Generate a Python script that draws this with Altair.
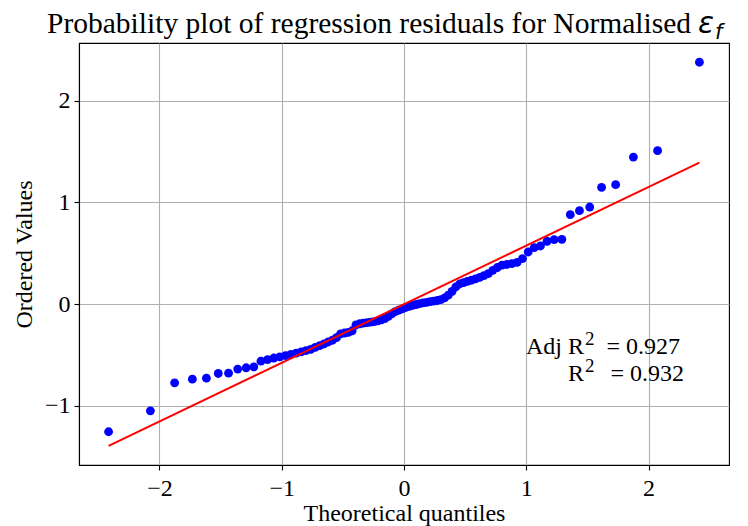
import altair as alt
import pandas as pd

# ---- data ----
theoretical = [-2.416, -2.074, -1.876, -1.731, -1.616, -1.519, -1.435, -1.360, -1.291, -1.228,
               -1.170, -1.116, -1.065, -1.016, -0.969, -0.925, -0.882, -0.841, -0.802, -0.763,
               -0.726, -0.689, -0.654, -0.619, -0.585, -0.552, -0.519, -0.487, -0.455, -0.424,
               -0.393, -0.362, -0.332, -0.302, -0.273, -0.243, -0.214, -0.185, -0.157, -0.128,
               -0.100, -0.071, -0.043, -0.014, 0.014, 0.043, 0.071, 0.100, 0.128, 0.157,
               0.185, 0.214, 0.243, 0.273, 0.302, 0.332, 0.362, 0.393, 0.424, 0.455,
               0.487, 0.519, 0.552, 0.585, 0.619, 0.654, 0.689, 0.726, 0.763, 0.802,
               0.841, 0.882, 0.925, 0.969, 1.016, 1.065, 1.116, 1.170, 1.228, 1.291,
               1.360, 1.435, 1.519, 1.616, 1.731, 1.876, 2.074, 2.416]
ordered = [-1.255, -1.049, -0.774, -0.738, -0.728, -0.682, -0.679, -0.639, -0.626, -0.617,
           -0.561, -0.545, -0.530, -0.518, -0.507, -0.495, -0.482, -0.470, -0.458, -0.445,
           -0.425, -0.408, -0.392, -0.372, -0.355, -0.330, -0.292, -0.284, -0.278, -0.262,
           -0.205, -0.193, -0.187, -0.182, -0.177, -0.172, -0.164, -0.155, -0.142, -0.120,
           -0.095, -0.074, -0.060, -0.047, -0.033, -0.021, -0.012, -0.004, 0.005, 0.012,
           0.018, 0.024, 0.030, 0.036, 0.045, 0.062, 0.088, 0.125, 0.170, 0.198,
           0.212, 0.224, 0.235, 0.248, 0.263, 0.280, 0.300, 0.332, 0.360, 0.383,
           0.390, 0.398, 0.410, 0.448, 0.513, 0.556, 0.572, 0.618, 0.634, 0.637,
           0.880, 0.919, 0.955, 1.148, 1.175, 1.446, 1.509, 2.379]
fit_x = [-2.416, 2.416]
fit_y = [-1.393, 1.391]
x_ticks = [-2, -1, 0, 1, 2]
y_ticks = [-1, 0, 1, 2]
x_domain = [-2.658, 2.658]
y_domain = [-1.582, 2.568]
title_main = "Probability plot of regression residuals for Normalised"
title_symbol = "ε"
title_sub = "f"
annot_prefix = ["Adj R", "R"]
annot_sup = ["2", "2"]
annot_value = ["= 0.927", "= 0.932"]

W, H = 650, 422
SERIF = "Liberation Serif"
FS = 24

pts = pd.DataFrame({"x": theoretical, "y": ordered})
fit = pd.DataFrame({"x": fit_x, "y": fit_y})

xs = alt.Scale(domain=x_domain, nice=False, zero=False)
ys = alt.Scale(domain=y_domain, nice=False, zero=False)

xax = alt.Axis(title="Theoretical quantiles", values=x_ticks, format="d", grid=True,
               titlePadding=1, labelPadding=6)
yax = alt.Axis(title="Ordered Values", values=y_ticks, format="d", grid=True,
               titlePadding=8, labelPadding=4)

points = alt.Chart(pts).mark_circle(size=78, color="#0000ff", opacity=1).encode(
    x=alt.X("x:Q", scale=xs, axis=xax),
    y=alt.Y("y:Q", scale=ys, axis=yax),
)

line = alt.Chart(fit).mark_line(color="#ff0000", strokeWidth=2).encode(
    x=alt.X("x:Q", scale=xs),
    y=alt.Y("y:Q", scale=ys),
)

def label(txt, x, y, size=FS, align="right", font=SERIF, style="normal"):
    return alt.Chart(pd.DataFrame({"t": [txt]})).mark_text(
        align=align, baseline="alphabetic", font=font, fontSize=size,
        fontStyle=style, color="black"
    ).encode(x=alt.value(x), y=alt.value(y), text="t:N")

ann = [
    label(annot_prefix[0], 505, 311),
    label(annot_sup[0], 506, 302, size=19, align="left"),
    label(annot_value[0], 601, 311),
    label(annot_prefix[1], 505, 338),
    label(annot_sup[1], 506, 329, size=19, align="left"),
    label(annot_value[1], 605, 338),
]

t_main = label(title_main, 612, -10, size=29.5, align="right")
t_sym = label(title_symbol, 619, -10, size=29.5, align="left", font="DejaVu Sans", style="italic")
t_sub = label(title_sub, 636, -4, size=21, align="left", font="DejaVu Sans", style="italic")

chart = alt.layer(points, line, *ann, t_main, t_sym, t_sub).properties(
    width=W, height=H,
    autosize=alt.AutoSizeParams(type="none"),
    padding={"left": 79, "top": 43, "right": 19, "bottom": 61},
    background="white",
).configure_view(
    stroke="black", strokeWidth=1.1
).configure_axis(
    labelFont=SERIF, labelFontSize=FS, labelColor="black",
    titleFont=SERIF, titleFontSize=FS, titleFontWeight="normal", titleColor="black",
    tickColor="black", tickSize=5, tickWidth=1.1,
    domainColor="black", domainWidth=1.1,
    gridColor="#b0b0b0", gridWidth=1.1,
)

chart.save("out.html", embed_options={"renderer": "svg", "actions": False})
